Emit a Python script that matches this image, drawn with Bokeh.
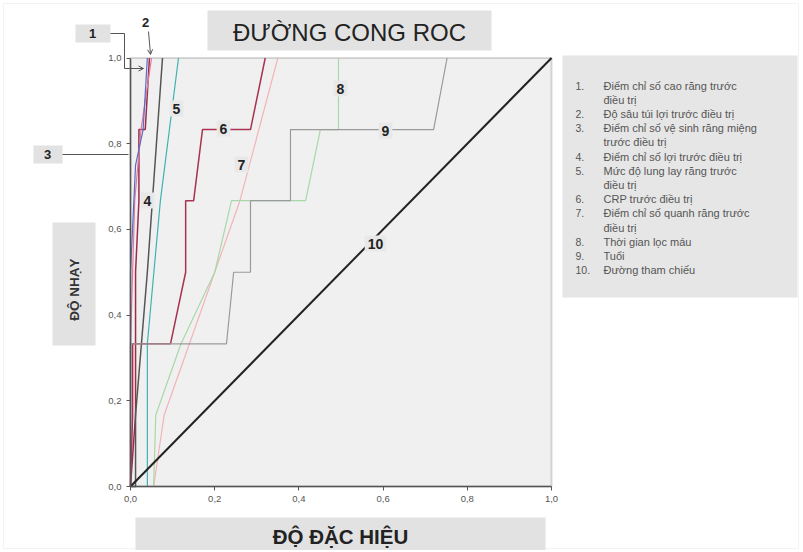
from bokeh.plotting import figure
from bokeh.models import Range1d, FixedTicker, Label, BoxAnnotation, Arrow, OpenHead
from bokeh.embed import file_html
from bokeh.resources import INLINE
import math

# ---------------- data ----------------
tick_values = [0.0, 0.2, 0.4, 0.6, 0.8, 1.0]
tick_labels = ["0,0", "0,2", "0,4", "0,6", "0,8", "1,0"]

curve_numbers = ["1", "2", "3", "4", "5", "6", "7", "8", "9", "10"]
legend_names = [
    ["Điểm chỉ số cao răng trước", "điều trị"],
    ["Độ sâu túi lợi trước điều trị"],
    ["Điểm chỉ số vệ sinh răng miệng", "trước điều trị"],
    ["Điểm chỉ số lợi trước điều trị"],
    ["Mức độ lung lay răng trước", "điều trị"],
    ["CRP trước điều trị"],
    ["Điểm chỉ số quanh răng trước", "điều trị"],
    ["Thời gian lọc máu"],
    ["Tuổi"],
    ["Đường tham chiếu"],
]

# x = 1 - specificity, y = sensitivity
c1_x = [0, 0.012, 0.012, 0.02, 0.02, 0.035, 0.045]
c1_y = [0, 0.167, 0.5, 0.667, 0.833, 0.833, 1.0]
c2_x = [0, 0.0, 0.01, 0.025, 0.05]
c2_y = [0, 0.333, 0.667, 0.833, 1.0]
c3_x = [0, 0.0, 0.012, 0.03, 0.04]
c3_y = [0, 0.5, 0.75, 0.833, 1.0]
c4_x = [0, 0.012, 0.012, 0.04, 0.076]
c4_y = [0, 0.0, 0.167, 0.5, 1.0]
c5_x = [0, 0.04, 0.04, 0.071, 0.114]
c5_y = [0, 0.0, 0.333, 0.667, 1.0]
c6_x = [0, 0.005, 0.005, 0.095, 0.131, 0.131, 0.15, 0.171, 0.285, 0.32]
c6_y = [0, 0.167, 0.333, 0.333, 0.5, 0.667, 0.667, 0.833, 0.833, 1.0]
c7_x = [0, 0.055, 0.08, 0.14, 0.2, 0.26, 0.35]
c7_y = [0, 0.0, 0.167, 0.333, 0.5, 0.667, 1.0]
c8_x = [0, 0.055, 0.06, 0.12, 0.2, 0.24, 0.416, 0.451, 0.494, 0.494]
c8_y = [0, 0.0, 0.167, 0.333, 0.5, 0.667, 0.667, 0.833, 0.833, 1.0]
c9_x = [0, 0.0, 0.228, 0.245, 0.285, 0.285, 0.38, 0.38, 0.72, 0.752]
c9_y = [0, 0.333, 0.333, 0.5, 0.5, 0.667, 0.667, 0.833, 0.833, 1.0]
c10_x = [0, 1]
c10_y = [0, 1]

curves_x = [c1_x, c2_x, c3_x, c4_x, c5_x, c6_x, c7_x, c8_x, c9_x, c10_x]
curves_y = [c1_y, c2_y, c3_y, c4_y, c5_y, c6_y, c7_y, c8_y, c9_y, c10_y]
colors = ["#9C2A4A", "#E07A9A", "#5A6BC0", "#555555", "#3DB3B0",
          "#A83250", "#F2B4B8", "#A8D8A8", "#9A9A9A", "#222222"]
widths = [1.5, 1.2, 1.2, 1.5, 1.2, 1.5, 1.2, 1.2, 1.2, 2]

# ---------------- layout geometry (page pixels) ----------------
W, H = 800, 550
PX0, PX1 = 130, 551      # x = 0 and x = 1
PY0, PY1 = 486, 57.5     # y = 0 and y = 1
kx = PX1 - PX0
ky = PY0 - PY1

p = figure(width=W, height=H, output_backend="svg", toolbar_location=None,
           x_range=Range1d(-PX0 / kx, (W - PX0) / kx),
           y_range=Range1d((PY0 - H) / ky, PY0 / ky),
           min_border=0)
p.background_fill_color = "white"
p.border_fill_color = "white"
p.outline_line_color = None
p.grid.visible = False

for ax in (p.xaxis[0], p.yaxis[0]):
    ax.fixed_location = 0
    ax.bounds = (0, 1)
    ax.ticker = FixedTicker(ticks=tick_values)
    ax.major_label_overrides = {v: t for v, t in zip(tick_values, tick_labels)}
    ax.major_label_text_font = "Liberation Sans"
    ax.major_label_text_font_size = "9.5px"
    ax.major_label_text_color = "#555555"
    ax.axis_line_color = "#555555"
    ax.axis_line_width = 1.5
    ax.major_tick_line_color = "#555555"
    ax.major_tick_out = 4
    ax.major_tick_in = 0
    ax.minor_tick_line_color = None

# plot area
p.add_layout(BoxAnnotation(left=0, right=1, bottom=0, top=1, fill_color="#F0F0F0",
                           fill_alpha=1, line_color=None, level="underlay"))
p.add_layout(BoxAnnotation(left=0, right=1, bottom=0, top=1, fill_color=None,
                           line_color="#808080", line_width=2, level="underlay"))

for xs, ys, c, w in zip(curves_x, curves_y, colors, widths):
    p.line(xs, ys, line_color=c, line_width=w)


def sx(px):
    return px


def sy(py):
    return H - py


def box(l, t, r, b, color, line=None):
    p.add_layout(BoxAnnotation(left=sx(l), right=sx(r), top=sy(t), bottom=sy(b),
                               left_units="screen", right_units="screen",
                               top_units="screen", bottom_units="screen",
                               fill_color=color, fill_alpha=1 if color else 0,
                               line_color=line, line_width=1,
                               level="underlay"))


def text(px, py, s, size, bold=False, color="#222222", align="center",
         baseline="middle", angle=0, bg=None, pad=0):
    lab = Label(x=sx(px), y=sy(py), x_units="screen", y_units="screen", text=s,
                text_font="Liberation Sans", text_font_size=f"{size}px",
                text_font_style="bold" if bold else "normal",
                text_color=color, text_align=align, text_baseline=baseline,
                angle=angle)
    if bg:
        lab.background_fill_color = bg
        lab.padding = pad
    p.add_layout(lab)


def seg(x0, y0, x1, y1, head=False):
    p.add_layout(Arrow(x_start=sx(x0), y_start=sy(y0), x_end=sx(x1), y_end=sy(y1),
                       start_units="screen", end_units="screen",
                       line_color="#555555", line_width=1,
                       end=OpenHead(size=5, line_color="#555555", line_width=1) if head else None))


# faint outer border of the chart image
box(3, 3, 798, 548, None, line="#D8D8D8")

# title / axis label boxes
box(207, 10, 491, 50, "#E2E2E2")
text(349, 32, "ĐƯỜNG CONG ROC", 24, color="#222222")
box(135, 517, 545, 560, "#E2E2E2")
text(340, 536, "ĐỘ ĐẶC HIỆU", 20.5, bold=True)
box(52, 222, 95, 345, "#E2E2E2")
text(74, 289, "ĐỘ NHẠY", 13.5, bold=True, color="#333333", angle=math.pi / 2)

# legend box
box(562, 55, 797, 297, "#E6E6E6")
line_i = 0
for num, lines in zip(curve_numbers, legend_names):
    text(575, 85 + 14.2 * line_i, num + ".", 10.5, color="#555555", align="left")
    for ln in lines:
        text(603, 85 + 14.2 * line_i, ln, 11, color="#555555", align="left")
        line_i += 1

# outside callouts
box(75, 24, 110, 42, "#E2E2E2")
text(92, 33, curve_numbers[0], 13, bold=True)
seg(110, 33, 124, 33)
seg(124, 33, 124, 68)
seg(124, 68, 143, 68, head=True)
text(145, 22, curve_numbers[1], 13, bold=True)
seg(148, 31, 150, 54, head=True)
box(33, 145, 62, 163, "#E2E2E2")
text(47, 154, curve_numbers[2], 13, bold=True)
seg(62, 154, 128, 154)

# in-plot callouts
inside = [("4", 147, 200), ("5", 176, 108), ("6", 223, 128), ("7", 241, 164),
          ("8", 340, 88), ("9", 385, 130), ("10", 375, 243)]
for s, px, py in inside:
    text(px, py, s, 14, bold=True, bg="#E8E8E8", pad=3)

open("out.html", "w").write(file_html(p, INLINE))
